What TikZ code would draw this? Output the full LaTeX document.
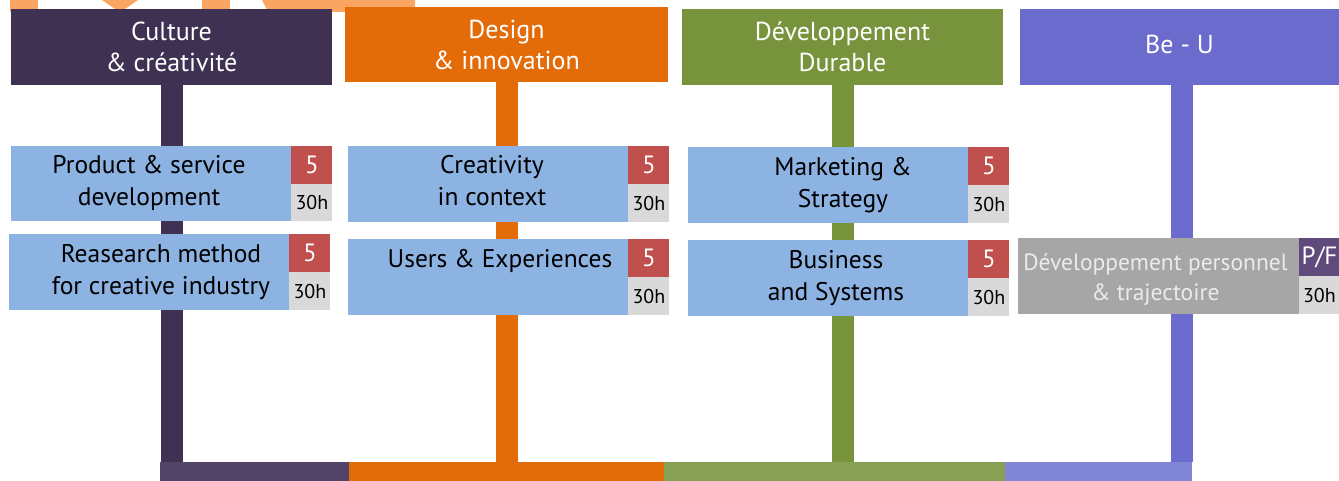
\documentclass[tikz,border=0pt]{standalone}
\usepackage{fontspec}
\setmainfont{PT Sans}
\usepackage{tikz}

\definecolor{culturec}{HTML}{3F3151}
\definecolor{designc}{HTML}{E36C09}
\definecolor{durablec}{HTML}{77933C}
\definecolor{beuc}{HTML}{6B6BCE}
\definecolor{barculture}{HTML}{524466}
\definecolor{bardesign}{HTML}{E36C0A}
\definecolor{bardurable}{HTML}{88A056}
\definecolor{barbeu}{HTML}{8085D5}
\definecolor{coursebg}{HTML}{8DB3E2}
\definecolor{creditbg}{HTML}{C0504D}
\definecolor{hoursbg}{HTML}{D9D9D9}
\definecolor{persobg}{HTML}{A6A6A6}
\definecolor{pfbg}{HTML}{604A7B}
\definecolor{decoc}{HTML}{FAA561}

\tikzset{
  head/.style={text=white, font=\fontsize{26}{31}\selectfont, align=center,
    minimum width=321, minimum height=76, inner sep=0},
  course/.style={fill=coursebg, minimum width=280, minimum height=76, inner sep=0},
  ctext/.style={font=\fontsize{25.5}{32}\selectfont, align=center, inner sep=0},
  credit/.style={fill=creditbg, text=white, font=\fontsize{25}{25}\selectfont,
    minimum width=41, minimum height=38, inner sep=0, anchor=north west},
  hours/.style={fill=hoursbg, font=\fontsize{20}{20}\selectfont,
    minimum width=41, minimum height=38, inner sep=0, anchor=north},
  stem/.style={line width=22pt},
  bar/.style={minimum height=19, inner sep=0}
}

\begin{document}
\begin{tikzpicture}[x=1pt,y=-1pt]
\useasboundingbox (0,0) rectangle (1339,481);

% faded letters behind the headers
\fill[decoc] (10,0) rectangle (38,12);
\fill[decoc] (102,0) -- (138,0) -- (125,9) -- (115,9) -- cycle;
\fill[decoc] (202,0) rectangle (230,9);
\fill[decoc] (262,0) -- (415,0) -- (415,12) -- (268,12) -- cycle;

% bottom bar
\node[bar, fill=barculture, minimum width=189] (bar1) at (254.5,471.5) {};
\node[bar, fill=bardesign, minimum width=315] (bar2) at (506.5,471.5) {};
\node[bar, fill=bardurable, minimum width=341] (bar3) at (834.5,471.5) {};
\node[bar, fill=barbeu, minimum width=187] (bar4) at (1098.5,471.5) {};

% headers
\node[head, fill=culturec] (culture) at (171.5,47) {Culture\\\& créativité};
\node[head, fill=designc, minimum width=323, minimum height=75] (design) at (506.5,44.5) {Design\\\& innovation};
\node[head, fill=durablec] (durable) at (842.5,47) {Développement\\Durable};
\node[head, fill=beuc, minimum width=319, label={[text=white,font=\fontsize{26}{31}\selectfont,yshift=3]center:Be - U}] (beu) at (1179.5,47) {};

% stems
\draw[stem, culturec] (culture.south) -- (culture.south |- bar1.north);
\draw[stem, designc] (design.south) -- (design.south |- bar2.north);
\draw[stem, durablec] (durable.south) -- (durable.south |- bar3.north);
\draw[stem, beuc] ([xshift=2]beu.south) -- ([xshift=2]beu.south |- bar4.north);

% Culture & creativite
\node[course, minimum height=75, label={[ctext,xshift=-2,yshift=1]center:{Product \& service\\development}}] (product) at (151,183.5) {};
\node[credit] (product5) at (product.north east) {5};
\node[hours, minimum height=37] (product30) at (product5.south) {30h};
\node[course, label={[ctext,xshift=12]center:{Reasearch method\\for creative industry}}] (research) at (149,272) {};
\node[credit] (research5) at (research.north east) {5};
\node[hours] (research30) at (research5.south) {30h};

% Design & innovation
\node[course, label={[ctext,xshift=4,yshift=3]center:{Creativity\\in context}}] (creativity) at (488,184) {};
\node[credit] (creativity5) at (creativity.north east) {5};
\node[hours] (creativity30) at (creativity5.south) {30h};
\node[course, label={[ctext,xshift=12,yshift=3]center:{Users \& Experiences\\\phantom{x}}}] (users) at (488,277) {};
\node[credit] (users5) at (users.north east) {5};
\node[hours] (users30) at (users5.south) {30h};

% Developpement durable
\node[course, label={[ctext,xshift=15]center:{Marketing \&\\Strategy}}] (marketing) at (828,185) {};
\node[credit] (marketing5) at (marketing.north east) {5};
\node[hours] (marketing30) at (marketing5.south) {30h};
\node[course, label={[ctext,xshift=8]center:{Business\\and Systems}}] (business) at (828,278) {};
\node[credit] (business5) at (business.north east) {5};
\node[hours] (business30) at (business5.south) {30h};

% Be - U
\node[course, fill=persobg, minimum width=281, label={[ctext,font=\fontsize{23.5}{30}\selectfont,text=white!92!black,xshift=-3,yshift=-4]center:{Développement personnel\\\& trajectoire}}] (perso) at (1158.5,276) {};
\node[credit, fill=pfbg, minimum width=40] (persopf) at (perso.north east) {P/F};
\node[hours, minimum width=40] (perso30) at (persopf.south) {30h};
\end{tikzpicture}
\end{document}
